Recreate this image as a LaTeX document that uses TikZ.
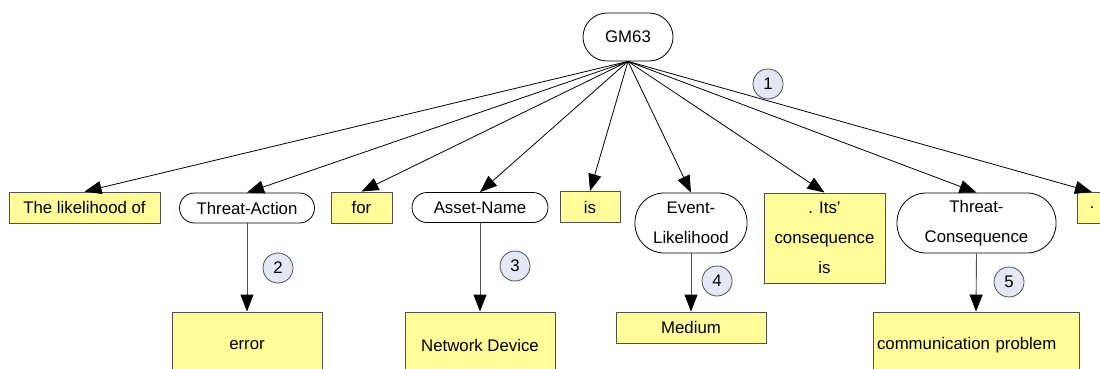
\documentclass[tikz,border=0pt]{standalone}
\usepackage{fontspec}
\setmainfont{Liberation Sans}
\usetikzlibrary{arrows.meta}
\definecolor{boxyellow}{HTML}{FFFC99}
\definecolor{edgegray}{HTML}{505050}
\definecolor{tagfill}{HTML}{E3E8F4}
\tikzset{
  x=1pt, y=-1pt,
  every node/.style={font=\fontsize{16.8}{30}\selectfont, inner sep=0pt, align=center},
  word/.style={draw=edgegray, fill=boxyellow, line width=0.9pt, minimum height=31pt},
  slot/.style={draw=black, fill=white, line width=0.8pt, minimum height=30pt, rounded corners=15pt},
  tallslot/.style={draw=black, fill=white, line width=0.8pt, minimum height=60pt, rounded corners=29pt},
  tag/.style={circle, draw=edgegray, fill=tagfill, line width=0.8pt, minimum size=30pt},
  link/.style={line width=0.8pt, -{Triangle[length=17pt,width=13pt]}},
  down/.style={draw=edgegray, line width=0.9pt, -{Triangle[length=17pt,width=13pt,color=black]}}
}
\begin{document}
\begin{tikzpicture}
\useasboundingbox (0,0) rectangle (1100,369);
\clip (0,0) rectangle (1100,369);

% root
\node[draw=black, fill=white, line width=0.8pt, minimum width=90pt, minimum height=48pt, rounded corners=24pt] (gm) at (628,37) {GM63};

% first row
\node[word, minimum width=151pt] (w1) at (84.5,207.5) {The likelihood of};
\node[slot, minimum width=135pt] (ta) at (247,208) {Threat-Action};
\node[word, minimum width=61pt] (w2) at (361.5,207.5) {for};
\node[slot, minimum width=136pt] (an) at (480,207.5) {Asset-Name};
\node[word, minimum width=60pt] (w3) at (590,207) {is};
\node[tallslot, minimum width=112pt] (el) at (691,223) {Event-\\Likelihood};
\node[word, minimum width=121pt, minimum height=90pt] (w4) at (824.5,238) {. Its'\\consequence\\is};
\node[tallslot, minimum width=159pt] (tc) at (976.5,223) {Threat-\\Consequence};
\node[word, minimum width=30pt] (w5) at (1092,208) {.};

% second row
\node[word, minimum width=150pt, minimum height=66pt] (err) at (247,345) {error};
\node[word, minimum width=150pt, minimum height=66pt] (nd) at (480,345) {Network Device};
\node[word, minimum width=150pt] (md) at (691,327.5) {Medium};
\node[word, text width=198pt, inner xsep=4pt, align=left, minimum height=66pt] (cp) at (976,345) {communication problem};

% connectors from the root
\foreach \n in {w1,ta,w2,an,w3,el,w4,tc,w5}
  \draw[link] (gm.south) -- (\n.north);

% connectors to the values
\draw[down] (ta.south) -- (err.north);
\draw[down] (an.south) -- (nd.north);
\draw[down] (el.south) -- (md.north);
\draw[down] (tc.south) -- (cp.north);

% numbered tags
\node[tag] (t1) at (768,84) {1};
\node[tag] (t2) at (278,268) {2};
\node[tag] (t3) at (515,266) {3};
\node[tag] (t4) at (717,281) {4};
\node[tag] (t5) at (1009,282) {5};
\end{tikzpicture}
\end{document}
